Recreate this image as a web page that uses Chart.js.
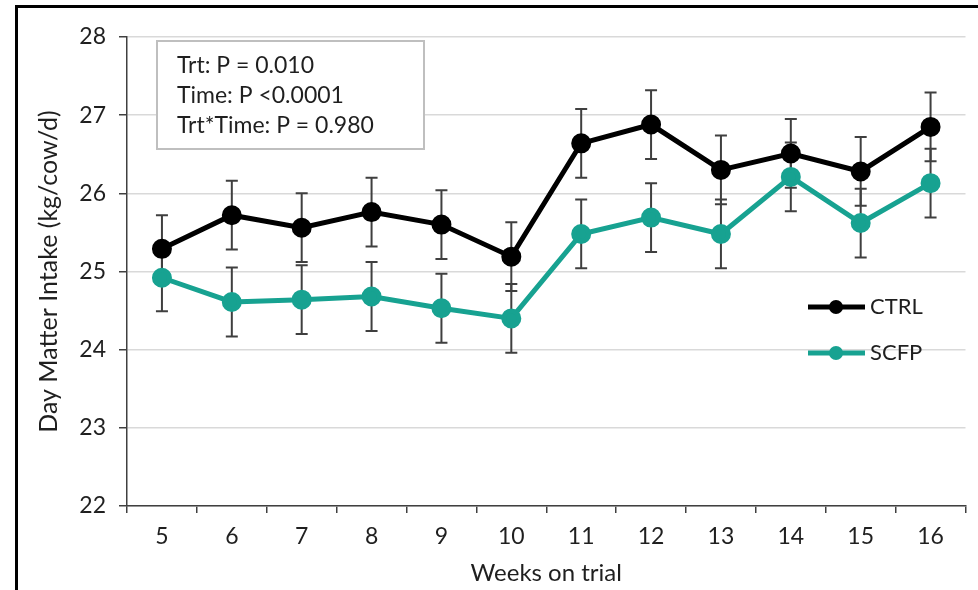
<!DOCTYPE html>
<html>
<head>
<meta charset="utf-8">
<script src="https://cdn.jsdelivr.net/npm/chart.js@4.4.1/dist/chart.umd.min.js"></script>
<style>
  html, body { margin: 0; padding: 0; background: #fff; }
  #wrap { position: relative; width: 978px; height: 590px; overflow: hidden; }
  #frame { position: absolute; left: 15px; top: 5px; width: 1000px; height: 700px;
           border-left: 3px solid #000; border-top: 3px solid #000; pointer-events: none; }
</style>
</head>
<body>
<div id="wrap">
  <canvas id="chart" width="978" height="590"></canvas>
  <div id="frame"></div>
</div>
<script>
// weeks on trial
const weeks = ['5', '6', '7', '8', '9', '10', '11', '12', '13', '14', '15', '16'];

// dry matter intake, kg/cow/d
const ctrlValues = [25.29, 25.72, 25.56, 25.76, 25.60, 25.19, 26.64, 26.88, 26.30, 26.51, 26.28, 26.85];
const scfpValues = [24.92, 24.61, 24.64, 24.68, 24.53, 24.40, 25.48, 25.69, 25.48, 26.21, 25.62, 26.13];

// standard errors
const ctrlErr = [0.43, 0.44, 0.44, 0.44, 0.44, 0.44, 0.44, 0.44, 0.44, 0.44, 0.44, 0.44];
const scfpErr = [0.43, 0.44, 0.44, 0.44, 0.44, 0.44, 0.44, 0.44, 0.44, 0.44, 0.44, 0.44];

const yTicks = [22, 23, 24, 25, 26, 27, 28];

const statLines = ['Trt: P = 0.010', 'Time: P <0.0001', 'Trt*Time: P = 0.980'];

const FONT = 'Lato';
const TEXT = '#1f1f1f';
const TEAL = '#17a291';

const errorBars = {
    id: 'errorBars',
    beforeDatasetsDraw(chart) {
        const ctx = chart.ctx;
        const y = chart.scales.y;
        ctx.save();
        ctx.strokeStyle = '#3f3f3f';
        ctx.lineWidth = 2;
        chart.data.datasets.forEach((ds, i) => {
            const meta = chart.getDatasetMeta(i);
            meta.data.forEach((pt, j) => {
                const v = ds.data[j], e = ds.errors[j];
                const top = y.getPixelForValue(v + e);
                const bot = y.getPixelForValue(v - e);
                ctx.beginPath();
                ctx.moveTo(pt.x, top); ctx.lineTo(pt.x, bot);
                ctx.moveTo(pt.x - 6, top); ctx.lineTo(pt.x + 6, top);
                ctx.moveTo(pt.x - 6, bot); ctx.lineTo(pt.x + 6, bot);
                ctx.stroke();
            });
        });
        ctx.restore();
    }
};

const extras = {
    id: 'extras',
    afterDraw(chart) {
        const ctx = chart.ctx;
        const area = chart.chartArea;
        ctx.save();
        // stats box
        const bx = area.left + 30, by = area.top + 4;
        ctx.fillStyle = '#fff';
        ctx.fillRect(bx, by, 267, 108);
        ctx.strokeStyle = '#bfbfbf';
        ctx.lineWidth = 2;
        ctx.strokeRect(bx, by, 267, 108);
        ctx.fillStyle = TEXT;
        ctx.font = '23px ' + FONT;
        ctx.textBaseline = 'middle';
        ctx.textAlign = 'left';
        statLines.forEach((t, i) => ctx.fillText(t, bx + 20, by + 25 + i * 30));

        // legend
        ctx.font = '22px ' + FONT;
        chart.data.datasets.forEach((ds, i) => {
            const ly = 307 + i * 46;
            const lx = 808;
            ctx.strokeStyle = ds.borderColor;
            ctx.lineWidth = 5;
            ctx.beginPath();
            ctx.moveTo(lx, ly); ctx.lineTo(lx + 57, ly);
            ctx.stroke();
            ctx.fillStyle = ds.borderColor;
            ctx.beginPath();
            ctx.arc(lx + 28, ly, 7, 0, Math.PI * 2);
            ctx.fill();
            ctx.fillStyle = TEXT;
            ctx.fillText(ds.label, lx + 62, ly);
        });
        ctx.restore();
    }
};

new Chart(document.getElementById('chart'), {
    type: 'line',
    data: {
        labels: weeks,
        datasets: [{
            label: 'CTRL',
            data: ctrlValues,
            errors: ctrlErr,
            borderColor: '#000000',
            backgroundColor: '#000000',
            borderWidth: 5,
            pointRadius: 7.5,
            pointHoverRadius: 7.5,
            tension: 0
        }, {
            label: 'SCFP',
            data: scfpValues,
            errors: scfpErr,
            borderColor: TEAL,
            backgroundColor: TEAL,
            borderWidth: 5,
            pointRadius: 7.5,
            pointHoverRadius: 7.5,
            tension: 0
        }]
    },
    options: {
        responsive: false,
        animation: false,
        layout: { padding: { left: 0, right: 5, top: 37, bottom: 0 } },
        plugins: { legend: { display: false }, tooltip: { enabled: false } },
        scales: {
            x: {
                offset: true,
                grid: { offset: true, drawOnChartArea: false, tickLength: 7, tickColor: '#404040', lineWidth: 1.5 },
                border: { color: '#404040', width: 1.5 },
                ticks: { color: TEXT, font: { family: FONT, size: 23 }, padding: 10 },
                title: { display: true, text: 'Weeks on trial', color: TEXT,
                         font: { family: FONT, size: 24 }, padding: { top: 0, bottom: 2 } },
                afterFit(s) { s.height = 84; }
            },
            y: {
                min: 22, max: 28,
                afterBuildTicks(s) { s.ticks = yTicks.map(v => ({ value: v })); },
                grid: { color: '#d9d9d9', lineWidth: 1.5, tickLength: 8, tickColor: '#404040' },
                border: { color: '#404040', width: 1.5 },
                ticks: { color: TEXT, font: { family: FONT, size: 23 }, padding: 13 },
                title: { display: true, text: 'Day Matter Intake (kg/cow/d)', color: TEXT,
                         font: { family: FONT, size: 25 }, padding: { top: 34, bottom: 0 } },
                afterFit(s) { s.width = 127; }
            }
        }
    },
    plugins: [errorBars, extras]
});
</script>
</body>
</html>
